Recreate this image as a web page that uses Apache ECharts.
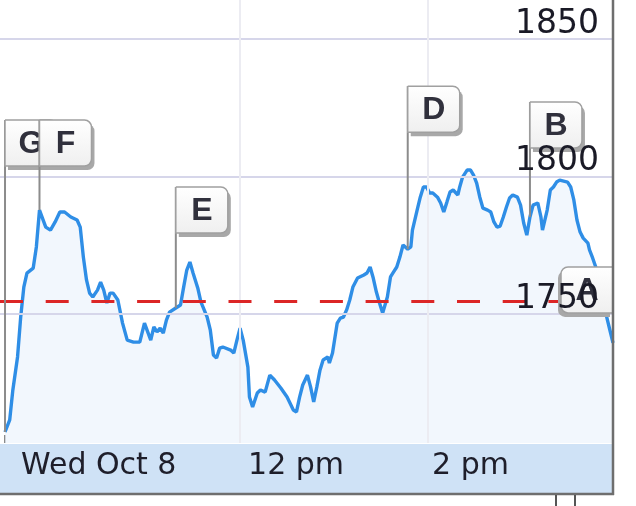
<!DOCTYPE html>
<html>
<head>
<meta charset="utf-8">
<script src="https://cdn.jsdelivr.net/npm/echarts@6/dist/echarts.min.js"></script>
<style>html,body{margin:0;padding:0;background:#fff}#c{width:636px;height:506px}</style>
</head>
<body>
<div id="c"></div>
<script>
// minutes after the 9:30 open
const times = [0,3,5,8,10,12,14,18,20,22,26,29,32,35,38,42,46,48,50,52,54,56,59,61,63,65,67,69,72,75,78,82,86,89,93,95,97,99,101,103,105,109,112,114,116,118,120,123,125,129,131,133,135,137,139,144,146,148,150,152,155,156,158,161,163,166,169,172,176,180,184,186,188,190,193,195,197,199,201,203,206,207,209,212,214,216,218,220,222,225,229,231,233,235,237,239,241,244,246,248,250,252,254,257,259,260,263,265,267,269,271,273,276,278,280,282,284,286,289,290,292,295,297,299,301,303,305,308,310,312,314,316,318,320,322,324,327,329,331,333,335,337,340,342,343,346,348,350,352,354,359,361,363,365,367,369,372,373,375,381,384,386,388];
const prices = [1707.1,1711.5,1722.4,1734.4,1748.9,1759.8,1764.9,1766.7,1774.4,1787.8,1781.6,1780.5,1783.5,1787.1,1787.1,1785.3,1784.2,1781.6,1770.7,1762.4,1757.6,1756.2,1758.7,1761.6,1758.7,1754.0,1757.6,1757.6,1755.1,1746.7,1740.5,1739.8,1739.8,1746.7,1740.5,1745.3,1743.5,1744.9,1743.1,1747.8,1750.7,1752.2,1753.3,1759.8,1766.0,1768.9,1764.9,1759.5,1754.4,1748.9,1744.2,1735.1,1734.0,1737.6,1738.0,1736.9,1735.8,1740.5,1744.9,1740.5,1730.7,1719.8,1716.2,1721.3,1722.4,1721.6,1727.8,1726.0,1723.1,1719.8,1715.1,1714.4,1719.8,1724.2,1727.8,1723.5,1718.0,1723.5,1729.6,1733.3,1734.4,1732.2,1735.8,1746.7,1748.5,1748.9,1751.5,1755.1,1759.8,1763.1,1764.2,1764.9,1767.1,1763.1,1758.0,1754.0,1750.4,1756.2,1763.5,1765.3,1767.1,1770.7,1775.1,1773.6,1774.4,1780.5,1787.8,1792.5,1796.2,1796.2,1794.0,1794.0,1792.5,1790.4,1787.1,1790.7,1794.4,1795.1,1793.3,1795.8,1799.8,1802.4,1802.4,1800.5,1797.6,1792.5,1788.5,1787.8,1787.1,1783.5,1781.6,1782.0,1785.3,1788.9,1792.2,1793.3,1792.5,1789.6,1783.1,1778.7,1785.3,1789.6,1790.4,1785.3,1780.5,1787.8,1795.1,1796.2,1798.0,1798.7,1798.0,1796.2,1791.5,1784.2,1779.8,1777.6,1775.8,1773.3,1770.4,1760.5,1748.9,1744.2,1739.5];
const prevClose = 1754.8;
const yTickValues = [1750, 1800, 1850];
const xTickMinutes = [0, 150, 270];
const xTickLabels = ['Wed Oct 8', '12 pm', '2 pm'];
const flagLetters = ['G', 'F', 'E', 'D', 'B', 'A'];
const flagTimes = [0, 22, 109, 257, 335, 388];

// layout for flags (pixels): stem length and which side the box sits
const flagLayout = [
  {stem: 266, side: 1}, {stem: 44, side: 1}, {stem: 75, side: 1},
  {stem: 117, side: 1}, {stem: 69, side: 1}, {stem: 30, side: -1}
];

const lineData = times.map((t, i) => [t, prices[i]]);
const flagData = flagTimes.map((t) => [t, prices[times.indexOf(t)]]);

const labelFont = {fontSize: 30, color: '#1e1e2a', fontFamily: 'DejaVu Sans'};

const chart = echarts.init(document.getElementById('c'), null, {renderer: 'canvas'});
chart.setOption({
  animation: false,
  backgroundColor: '#ffffff',
  grid: {left: 0, right: 23, top: 0, bottom: 63},
  xAxis: {
    type: 'value', min: -3.2, max: 388,
    axisLine: {show: false},
    splitLine: {show: false},
    axisTick: {show: true, inside: true, length: 8, customValues: xTickMinutes,
      lineStyle: {color: '#8a8a8a', width: 2}},
    axisLabel: {
      customValues: xTickMinutes, margin: 8, align: 'left',
      formatter: (v) => {
        const i = xTickMinutes.indexOf(v);
        return '{l' + i + '|' + xTickLabels[i] + '}';
      },
      rich: {
        l0: Object.assign({padding: [0, 0, 0, 16]}, labelFont),
        l1: Object.assign({padding: [0, 0, 0, 8]}, labelFont),
        l2: Object.assign({padding: [0, 0, 0, 4]}, labelFont)
      }
    }
  },
  yAxis: {
    type: 'value', position: 'right', min: 1703.1, max: 1864.2, z: 10,
    axisLine: {show: false}, axisTick: {show: false}, splitLine: {show: false},
    axisLabel: {
      inside: true, customValues: yTickValues, margin: 14,
      verticalAlign: 'bottom', lineHeight: 28, padding: [0, 0, 1, 0],
      formatter: (v) => String(Math.round(v)),
      fontSize: 33, color: '#1a1a26', fontFamily: 'DejaVu Sans'
    }
  },
  series: [
    {
      type: 'line', data: [], z: 1, silent: true,
      markLine: {
        symbol: 'none', silent: true, label: {show: false},
        lineStyle: {type: 'solid'},
        data: [
          {yAxis: 1750, lineStyle: {color: '#d6d6ea', width: 2}},
          {yAxis: 1800, lineStyle: {color: '#d6d6ea', width: 2}},
          {yAxis: 1850, lineStyle: {color: '#d6d6ea', width: 2}},
          {xAxis: 150, lineStyle: {color: '#ececf2', width: 2}},
          {xAxis: 270, lineStyle: {color: '#ececf2', width: 2}}
        ]
      }
    },
    {
      type: 'line', data: lineData, z: 3, showSymbol: false, smooth: false,
      lineStyle: {color: '#2f8ee6', width: 3.4},
      areaStyle: {color: '#ecf4fc', origin: 'start'},
      markLine: {
        symbol: 'none', silent: true, label: {show: false},
        data: [{yAxis: prevClose}],
        lineStyle: {color: '#dc2626', width: 3, type: [23, 22.7]}
      }
    },
    {
      type: 'custom', z: 5, data: flagData,
      renderItem: (params, api) => {
        const i = params.dataIndex;
        const p = api.coord([api.value(0), api.value(1)]);
        const L = flagLayout[i];
        const w = 52, h = 46;
        const by = p[1] - L.stem - h;
        const bx = L.side > 0 ? p[0] : p[0] - w;
        const r = L.side > 0 ? [0, 7, 7, 0] : [7, 0, 0, 7];
        return {
          type: 'group',
          children: [
            {type: 'line', shape: {x1: p[0], y1: p[1], x2: p[0], y2: by}, style: {stroke: '#8c8c8c', lineWidth: 2}},
            {type: 'rect', shape: {x: bx + 3 * L.side, y: by + 4, width: w, height: h, r: r}, style: {fill: '#a8a8a8'}},
            {type: 'rect', shape: {x: bx, y: by, width: w, height: h, r: r},
              style: {fill: new echarts.graphic.LinearGradient(0, 0, 0, 1, [{offset: 0, color: '#ffffff'}, {offset: 1, color: '#efefef'}]),
                stroke: '#a0a0a0', lineWidth: 1.5}},
            {type: 'text', style: {x: bx + w / 2, y: by + h / 2 + 1, text: flagLetters[i], align: 'center', verticalAlign: 'middle',
              font: 'bold 32px "Liberation Sans", Arial, sans-serif', fill: '#30303c'}}
          ]
        };
      }
    }
  ],
  graphic: [
    {type: 'rect', shape: {x: 0, y: 444, width: 613, height: 49}, style: {fill: '#cfe2f6'}, z: 0},
    {type: 'line', shape: {x1: 0, y1: 494, x2: 614, y2: 494}, style: {stroke: '#6e6e6e', lineWidth: 2.5}, z: 20},
    {type: 'line', shape: {x1: 613, y1: 0, x2: 613, y2: 495}, style: {stroke: '#6e6e6e', lineWidth: 2.5}, z: 20},
    {type: 'line', shape: {x1: 556, y1: 495, x2: 556, y2: 506}, style: {stroke: '#555', lineWidth: 2}, z: 20},
    {type: 'line', shape: {x1: 575, y1: 495, x2: 575, y2: 506}, style: {stroke: '#555', lineWidth: 2}, z: 20}
  ]
});
</script>
</body>
</html>
